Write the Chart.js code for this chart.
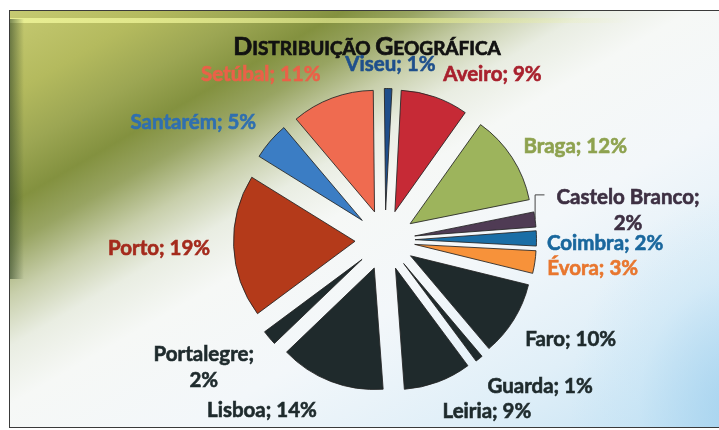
<!DOCTYPE html>
<html>
<head>
<meta charset="utf-8">
<title>Distribuição Geográfica</title>
<script src="https://cdn.jsdelivr.net/npm/chart.js@4.4.1/dist/chart.umd.min.js"></script>
<style>
  html, body { margin: 0; padding: 0; background: #fff; }
  #wrap { position: relative; width: 719px; height: 430px; overflow: hidden; background: #fff; }
  #paper {
    position: absolute; left: 9px; top: 10px; width: 730px; height: 416px;
    border: 1.5px solid #3a3a3a;
    background:
      linear-gradient(to right, rgba(236,242,150,0.9) 0%, rgba(236,242,150,0.55) 60%, rgba(236,242,150,0) 85%) 0 7px / 100% 5px no-repeat,
      radial-gradient(ellipse 170px 220px at 730px 400px, rgba(160,208,238,0.85), rgba(190,225,245,0.35) 60%, rgba(220,238,248,0) 100%),
      linear-gradient(150deg, #c6ca72 0%, #b4ba5e 10%, #9ca653 17%, #83913f 23%, #98a462 28%, #c8cfab 34%, #e9ede2 40%, #f6f8f6 47%, #f3f7fa 62%, #e0eff8 80%, #c0e0f3 100%);
  }
  #paper::before {
    content: ""; position: absolute; left: 0; top: 8px; width: 14px; height: 260px;
    background: linear-gradient(to right, rgba(50,70,40,0.6), rgba(60,80,40,0));
  }
  canvas { position: absolute; left: 0; top: 0; }
</style>
</head>
<body>
<div id="wrap">
  <div id="paper"></div>
  <canvas id="geo-chart" width="719" height="430"></canvas>
</div>
<script>
// Data
const regions = ['Aveiro', 'Braga', 'Castelo Branco', 'Coimbra', 'Évora', 'Faro', 'Guarda',
  'Leiria', 'Lisboa', 'Portalegre', 'Porto', 'Santarém', 'Setúbal', 'Viseu'];
const shares = [9, 12, 2, 2, 3, 10, 1, 9, 14, 2, 19, 5, 11, 1];
const chartTitle = 'Distribuição Geográfica';

// Styles
const sliceColors = ['#c62a36', '#9db45c', '#4f3b54', '#1a6ea6', '#f7923a', '#1f2a2c', '#1f2a2c',
  '#1f2a2c', '#1f2a2c', '#1f2a2c', '#b43a1a', '#3b7dc4', '#ef6b50', '#1f4e8a'];
const labelColors = ['#a8202d', '#8ea24f', '#3d2f42', '#19679d', '#e8762e', '#1e2a2c', '#1e2a2c',
  '#1e2a2c', '#1e2a2c', '#1e2a2c', '#a42a1c', '#2f6fb0', '#ea6148', '#1e4f8c'];
const wrapped = ['Castelo Branco', 'Portalegre'];
const withLeader = ['Castelo Branco'];
// small label nudges, [dx, dy]
const labelNudge = [[4, 2], [0, 3], [8, -4], [-3, 5], [-1, 2], [0, 6], [0, 7],
  [0, 5], [-9, 4], [-5, 4], [-10, 1], [-4, -1], [-7, 1], [2, 2]];

const explodeDist = 30;
const labelRadius = 165;
const lineH = 26;
const labelFont = 'bold 20.5px Lato, "DejaVu Sans", sans-serif';

const ctx = document.querySelector('#geo-chart');

// push every slice out from the centre
const explodePlugin = {
  id: 'explode',
  afterDatasetUpdate(chart, args) {
    const meta = chart.getDatasetMeta(args.index);
    meta.data.forEach((arc) => {
      const mid = (arc.startAngle + arc.endAngle) / 2;
      arc.x += Math.cos(mid) * explodeDist;
      arc.y += Math.sin(mid) * explodeDist;
    });
  }
};

const boldText = (c, t, x, y) => {
  c.strokeText(t, x, y);
  c.fillText(t, x, y);
};

const drawTitle = (c) => {
  const words = chartTitle.toUpperCase().split(' ');
  const big = 'bold 25px Lato, "DejaVu Sans", sans-serif';
  const small = 'bold 19px Lato, "DejaVu Sans", sans-serif';
  const parts = [];
  words.forEach((w, i) => {
    parts.push({ t: w[0], f: big });
    parts.push({ t: w.slice(1) + (i < words.length - 1 ? ' ' : ''), f: small });
  });
  let total = 0;
  parts.forEach((p) => { c.font = p.f; p.w = c.measureText(p.t).width; total += p.w; });
  let x = 367 - total / 2;
  c.fillStyle = '#111';
  c.strokeStyle = '#111';
  c.lineWidth = 0.7;
  c.textAlign = 'left';
  c.textBaseline = 'alphabetic';
  parts.forEach((p) => { c.font = p.f; boldText(c, p.t, x, 55); x += p.w; });
};

const labelPlugin = {
  id: 'sliceLabels',
  afterDatasetsDraw(chart) {
    const c = chart.ctx;
    const area = chart.chartArea;
    const cx = (area.left + area.right) / 2;
    const cy = (area.top + area.bottom) / 2;
    const meta = chart.getDatasetMeta(0);
    c.save();
    drawTitle(c);
    c.font = labelFont;
    c.textBaseline = 'middle';
    c.textAlign = 'center';
    c.lineWidth = 0.6;
    meta.data.forEach((arc, i) => {
      const mid = (arc.startAngle + arc.endAngle) / 2;
      const dx = Math.cos(mid);
      const dy = Math.sin(mid);
      const name = regions[i];
      const lines = wrapped.includes(name)
        ? [name + ';', shares[i] + '%']
        : [name + '; ' + shares[i] + '%'];
      const w = Math.max(...lines.map((l) => c.measureText(l).width));
      const h = lines.length * lineH;
      const px = cx + dx * labelRadius + labelNudge[i][0];
      const py = cy + dy * labelRadius;
      let boxX;
      if (dx > 0.2) boxX = px + w / 2;
      else if (dx < -0.2) boxX = px - w / 2;
      else boxX = px;
      const boxY = py + dy * h / 2 + labelNudge[i][1];
      c.fillStyle = labelColors[i];
      c.strokeStyle = labelColors[i];
      lines.forEach((l, k) => {
        boldText(c, l, boxX, boxY - h / 2 + lineH * (k + 0.5));
      });
      if (withLeader.includes(name)) {
        const r = arc.outerRadius;
        const ex = arc.x + dx * r;
        const ey = arc.y + dy * r;
        const left = boxX - w / 2 - 12;
        const ly = boxY - h / 2 + lineH * 0.3 + 3;
        c.strokeStyle = '#444';
        c.lineWidth = 1;
        c.beginPath();
        c.moveTo(ex, ey);
        c.lineTo(ex, ly);
        c.lineTo(left, ly);
        c.stroke();
        c.lineWidth = 0.6;
      }
    });
    c.restore();
  }
};

new Chart(ctx, {
  type: 'pie',
  data: {
    labels: regions,
    datasets: [{
      data: shares,
      backgroundColor: sliceColors,
      borderColor: 'rgba(35,35,35,0.85)',
      borderWidth: 1
    }]
  },
  options: {
    responsive: false,
    animation: false,
    rotation: 3,
    layout: { padding: { left: 263, right: 212, top: 118, bottom: 68 } },
    plugins: {
      legend: { display: false },
      tooltip: { enabled: false },
      title: { display: false }
    }
  },
  plugins: [explodePlugin, labelPlugin]
});
</script>
</body>
</html>
